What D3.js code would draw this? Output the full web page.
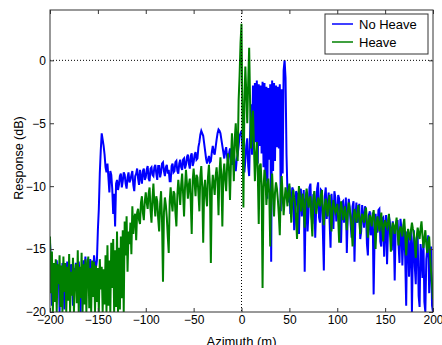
<!DOCTYPE html>
<html lang="en">
<head>
    <meta charset="UTF-8">
    <title>Azimuth response</title>
    <style>
        body { margin: 0; background: #fff; }
        text { font-family: "Liberation Sans", Arial, sans-serif; }
    </style>
</head>
<body>
<script src="https://d3js.org/d3.v7.min.js"></script>
<script>
    // one sample per metre from -200 to 200
    const azimuth = d3.range(-200, 201, 1);

    // No Heave response (dB), one row = 10 m
    const noHeave = [
        -14.5, -16, -19.5, -16.8, -16.2, -17.4, -16.6, -15.9, -17, -16.3,
        -20, -16.5, -17.8, -16.1, -17.5, -19.8, -16.4, -17.2, -16, -16.9,
        -16.8, -17.6, -16.2, -16.7, -19.5, -16.5, -17.3, -16.1, -17, -16.4,
        -16, -17.1, -20, -16.6, -17.3, -15.9, -16.8, -15.6, -17.2, -16.3,
        -16.3, -17, -15.8, -16.9, -16.4, -17.4, -15.5, -16.2, -16.5, -15.9,
        -13.5, -11.8, -9, -7.2, -5.8, -6.3, -6.8, -7.5, -8.5, -8.9,
        -8.2, -9.3, -10.5, -8.8, -9.1, -10.2, -12.2, -10.6, -13.2, -9.8,
        -9.5, -10.3, -9.9, -9.2, -9, -10.1, -9.6, -8.9, -9.1, -9.8,
        -10.2, -9.3, -8.9, -9.7, -9.5, -9.1, -8.8, -9.9, -10.4, -9.2,
        -9, -8.6, -9.4, -9.9, -8.7, -9.3, -9.8, -8.8, -8.6, -9.5,
        -9.3, -8.7, -8.4, -9.4, -9.6, -8.6, -8.5, -9.1, -9.2, -8.5,
        -8.3, -9, -9.5, -8.4, -8.4, -9.3, -8.9, -8.2, -8.1, -8.8,
        -9.2, -8.5, -8.3, -9, -8.7, -9.6, -9.6, -8.4, -8.2, -8.9,
        -8.8, -8.1, -8, -8.8, -9, -8.2, -7.9, -8.5, -8.7, -7.9,
        -7.8, -8.6, -8.3, -7.7, -7.5, -8.2, -8.6, -7.6, -7.4, -8.4,
        -8.1, -7.5, -7.3, -7.9, -7.8, -6.9, -6.5, -5.9, -5.6, -5.8,
        -6, -6.6, -7.2, -7.8, -8.2, -7.9, -7.6, -8.1, -8, -7.3,
        -6.8, -7.3, -7.5, -6.9, -6.3, -5.8, -5.5, -5.6, -5.8, -6.3,
        -6.8, -7.3, -7.8, -7.2, -6.9, -7.7, -8.1, -7.4, -7, -7.9,
        -8.3, -7.6, -7.3, -8.4, -8.8, -7.9, -7.5, -6.8, -6, -5.8,
        -5.6, -6.9, -7.8, -8.9, -8, -6.8, -6.2, -8.4, -9.2, -5.8,
        -3.5, -7.5, -2, -7, -1.8, -6.5, -1.6, -8.2, -1.9, -6.8,
        -2, -7.4, -1.7, -8.5, -1.8, -9.6, -2.1, -11, -2.2, -7.9,
        -1.9, -16, -1.6, -8.8, -1.8, -8, -2, -6.9, -2.1, -7,
        -1.9, -12, -2.3, -9, -0.8, 0, -1.4, -7.5, -10.5, -11.3,
        -10, -12.2, -11.8, -10.1, -10.3, -13.5, -12.5, -10.4, -10.6, -12.1,
        -13.8, -10.9, -10.2, -12.4, -11.5, -10.3, -16.8, -11.2, -10.5, -13.6,
        -12, -10.1, -9.8, -12.3, -13, -10.7, -10.6, -14.1, -11.8, -10.2,
        -9.7, -12.5, -12.9, -10.3, -10.4, -13.7, -16.7, -10.8, -10.1, -12.6,
        -11.5, -10.5, -12.8, -14.9, -10.6, -11.9, -13.4, -10.4, -10.9, -12.8,
        -12.2, -10.7, -11, -13.9, -14.5, -11.3, -11.2, -12.9, -12.1, -10.9,
        -15.3, -12.2, -11, -11.7, -13, -14.1, -11.6, -11.2, -16, -12.5,
        -11.3, -12.9, -12.6, -11.4, -14.2, -13.6, -11.5, -12.4, -13.3, -11.6,
        -11.9, -14.6, -15.5, -12.3, -12, -13.9, -13.5, -12.1, -18.6, -14,
        -12.2, -13.1, -13.7, -11.9, -11.8, -14.4, -14.8, -12.6, -12.5, -15.6,
        -13.2, -12.3, -16.2, -13.5, -12.4, -12.9, -14, -15.1, -12.8, -13.6,
        -17.5, -13.4, -13, -12.7, -14.6, -16.1, -12.6, -13.3, -16.3, -14.2,
        -13.2, -15.8, -19.5, -13.6, -13.8, -17.2, -15.2, -13.4, -20, -14.9,
        -13.5, -16.4, -17.8, -14.1, -14, -18.7, -19.6, -14.6, -15.5, -17.3,
        -14.2, -19.2, -20, -15.8, -15, -13.9, -18.5, -16.4, -14.8, -19.5,
        -20
    ];

    // Heave response (dB), one row = 10 m
    const heave = [
        -14, -18.5, -15.2, -20, -16.1, -19.2, -15.8, -20, -16.2, -17.8,
        -15.5, -19.6, -16.3, -20, -15.6, -18.4, -16.1, -20, -16.4, -19.1,
        -15.4, -20, -16.8, -18.7, -15.7, -20, -17.1, -16.2, -19.3, -15.1,
        -20, -16.4, -18.9, -15.3, -20, -16.2, -19.4, -15.8, -20, -16.3,
        -15.6, -19.7, -16.5, -20, -15.9, -18.8, -16, -20, -16.3, -19.2,
        -16.5, -20, -15.8, -18.2, -16.4, -20, -16.6, -19.4, -15.5, -20,
        -14.7, -19.5, -15.9, -20, -14.5, -18.1, -14.2, -20, -15.1, -19.6,
        -13.6, -20, -14.9, -19.8, -14, -18.9, -13.5, -20, -12.8, -15.5,
        -12.4, -16.8, -13.6, -14.6, -12.9, -15.4, -11.6, -13.8, -12.5, -12.2,
        -14.3, -12.1, -11.8, -12.7, -13, -11.3, -10.8, -12.1, -12.7, -11.2,
        -10.5, -11.3, -11.8, -10.6, -10.1, -11.9, -12.9, -11, -9.8, -11.4,
        -12.4, -10.8, -11.2, -12.6, -13.6, -11.4, -10.4, -12.8, -17.6, -12.1,
        -10.9, -11.5, -12.5, -14, -15.3, -11.2, -10.1, -11.3, -12, -10.4,
        -10.6, -12.1, -13.2, -10.7, -9.5, -10.4, -11.5, -9.9, -9, -10.6,
        -12.4, -10.1, -8.7, -9.8, -11, -9.9, -9.4, -11.2, -13.8, -9.6,
        -8.6, -9.7, -10.8, -9.1, -9.3, -10.5, -12, -9.2, -8.4, -10.1,
        -14.5, -10.2, -9.5, -10.8, -11.6, -9.3, -8.3, -9.9, -16.1, -10.4,
        -9.1, -9.8, -10.7, -9.2, -8.5, -9.6, -12.3, -8.9, -7.7, -9.4,
        -13.2, -9.1, -8.2, -9.5, -10.4, -8.3, -7.4, -8.8, -11.1, -8.1,
        -5.8, -7.4, -9.6, -6.2, -5, -6.9, -8, -3.2, -1.2, 1.4,
        2.9, -4.5, -11.7, -3.5, -0.5, -2.6, -5, -1.8, 1, -3.4,
        -7, -5.2, -4, -6.8, -9.6, -7.6, -6.5, -8.9, -13, -8.4,
        -8.2, -9.9, -18.1, -10.2, -8.7, -9.3, -11.5, -10.1, -9.4, -10.6,
        -14.8, -10.4, -9, -10.9, -12.4, -10.5, -9.7, -10.2, -11.1, -12.3,
        -13.9, -10.3, -9.2, -10.8, -12.3, -11.1, -10.1, -10.7, -11.6, -10.4,
        -9.8, -11.1, -12.9, -11.3, -10.3, -10.9, -11.4, -12.6, -14.2, -11.5,
        -10, -10.8, -12, -11.4, -10.6, -11.9, -13.3, -11, -10.2, -10.9,
        -11.7, -11.1, -10.8, -12.6, -14, -11.2, -10.4, -11.3, -12.2, -11.6,
        -10.9, -11.3, -11.6, -10.7, -10.3, -12.2, -13.1, -11.5, -11, -11.8,
        -12.4, -11.2, -10.7, -12.1, -13.6, -11.8, -11.1, -11.7, -12.1, -11.9,
        -11.4, -12.6, -14.5, -12, -11.2, -11.9, -12.7, -12.2, -11.6, -12.4,
        -13.5, -12.1, -11.3, -11.8, -12.4, -13.3, -14.8, -12.5, -11.8, -12.3,
        -12.9, -12.2, -11.5, -12.6, -13.8, -12.7, -12.2, -12.5, -12.9, -12.1,
        -11.7, -12.8, -14.1, -12.9, -12.3, -12.6, -13.2, -12.4, -11.9, -12.8,
        -15, -13.1, -12.4, -12.9, -13.6, -12.8, -12.1, -13.3, -14.4, -13,
        -12.7, -13.1, -13.3, -12.8, -12.2, -13.6, -15.2, -13.4, -12.9, -13.2,
        -13.8, -13.1, -12.5, -13.7, -14.7, -13.6, -13.2, -13.5, -14, -13.1,
        -12.6, -13.9, -15.5, -14.1, -13.4, -13.9, -14.3, -13.5, -12.9, -13.4,
        -13.8, -14.6, -15.7, -14, -13.3, -13.8, -14.2, -13.4, -12.8, -13.9,
        -14.9, -14.2, -13.5, -14.6, -15.3, -14.4, -14, -15.6, -16.8, -17.8,
        -19
    ];

    const xTicks = [-200, -150, -100, -50, 0, 50, 100, 150, 200];
    const yTicks = [-20, -15, -10, -5, 0];
    const seriesNames = ["No Heave", "Heave"];

    const margin = {top: 10, right: 9, bottom: 33, left: 50};
    const width = 442 - margin.left - margin.right;
    const height = 345 - margin.top - margin.bottom;

    const svg = d3.select("body").append("svg")
        .attr("width", 442)
        .attr("height", 345)
        .append("g")
        .attr("transform", "translate(" + margin.left + "," + margin.top + ")");

    const xScale = d3.scaleLinear().domain([-200, 200]).range([0, width]);
    const yScale = d3.scaleLinear().domain([-20, 4]).range([height, 0]);

    svg.append("clipPath").attr("id", "plot")
        .append("rect").attr("width", width).attr("height", height);

    // Lines (green on top, as in the original)
    const line = d3.line()
        .x((d, i) => xScale(azimuth[i]))
        .y(d => yScale(d));

    const colors = ["#0000ff", "#008000"];
    [noHeave, heave].forEach((series, k) => {
        svg.append("path")
            .datum(series)
            .attr("clip-path", "url(#plot)")
            .attr("fill", "none")
            .attr("stroke", colors[k])
            .attr("stroke-width", 2)
            .attr("d", line);
    });

    // dotted reference lines at 0
    svg.append("line")
        .attr("x1", 0).attr("x2", width)
        .attr("y1", yScale(0)).attr("y2", yScale(0))
        .attr("stroke", "#000").attr("stroke-dasharray", "1,2");
    svg.append("line")
        .attr("x1", xScale(0)).attr("x2", xScale(0))
        .attr("y1", 0).attr("y2", height)
        .attr("stroke", "#000").attr("stroke-dasharray", "1,2");

    // Axes, ticks pointing inwards
    const styleAxis = g => {
        g.select(".domain").remove();
        g.selectAll(".tick line").attr("stroke", "#333");
        g.selectAll("text").style("font-size", "12px").attr("fill", "#000")
            .style("font-family", "'Liberation Sans', Arial, sans-serif");
    };

    svg.append("g")
        .attr("transform", "translate(0," + height + ")")
        .call(d3.axisBottom(xScale).tickValues(xTicks).tickSize(-4).tickPadding(3))
        .call(styleAxis);
    svg.append("g")
        .call(d3.axisTop(xScale).tickValues(xTicks).tickSize(-4).tickFormat(""))
        .call(styleAxis);
    svg.append("g")
        .call(d3.axisLeft(yScale).tickValues(yTicks).tickSize(-4).tickPadding(4))
        .call(styleAxis);
    svg.append("g")
        .attr("transform", "translate(" + width + ",0)")
        .call(d3.axisRight(yScale).tickValues(yTicks).tickSize(-4).tickFormat(""))
        .call(styleAxis);

    svg.append("rect")
        .attr("width", width).attr("height", height)
        .attr("fill", "none").attr("stroke", "#333");

    // axis labels
    svg.append("text")
        .attr("x", width / 2).attr("y", height + 34)
        .attr("text-anchor", "middle")
        .style("font-size", "13px")
        .text("Azimuth (m)");
    svg.append("text")
        .attr("transform", "translate(-27," + (height / 2 - 3) + ") rotate(-90)")
        .attr("text-anchor", "middle")
        .style("font-size", "12.5px")
        .text("Response (dB)");

    // legend
    const legend = svg.append("g")
        .attr("transform", "translate(" + (325 - margin.left) + "," + (14 - margin.top) + ")");
    legend.append("rect")
        .attr("width", 103).attr("height", 40)
        .attr("fill", "#fff").attr("stroke", "#333");
    seriesNames.forEach((name, k) => {
        const y = 10 + k * 18;
        legend.append("line")
            .attr("x1", 7).attr("x2", 28)
            .attr("y1", y).attr("y2", y)
            .attr("stroke", colors[k]).attr("stroke-width", 1.5);
        legend.append("text")
            .attr("x", 34).attr("y", y + 4.5)
            .style("font-size", "13px")
            .text(name);
    });
</script>
</body>
</html>
